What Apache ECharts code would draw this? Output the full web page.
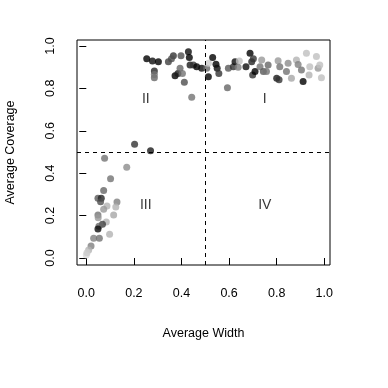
<!DOCTYPE html>
<html>
<head>
<meta charset="utf-8">
<script src="https://cdn.jsdelivr.net/npm/echarts@6/dist/echarts.min.js"></script>
<style>
  html, body { margin: 0; padding: 0; background: #fff; }
  #main { width: 388px; height: 388px; }
</style>
</head>
<body>
<div id="main"></div>
<script>
// values
var widthVals = [
  0.254, 0.278, 0.303, 0.286, 0.286, 0.286, 0.345, 0.366, 0.358, 0.398,
  0.429, 0.433, 0.373, 0.385, 0.394, 0.404, 0.412, 0.436, 0.450, 0.464,
  0.443, 0.485, 0.506, 0.513, 0.513, 0.531, 0.545, 0.550, 0.557, 0.593,
  0.597, 0.618, 0.625, 0.643, 0.638, 0.671, 0.688, 0.695, 0.702, 0.699,
  0.709, 0.737, 0.730, 0.744, 0.764, 0.757, 0.800, 0.810, 0.806, 0.813,
  0.841, 0.848, 0.862, 0.883, 0.890, 0.904, 0.911, 0.925, 0.939, 0.936,
  0.967, 0.974, 0.981, 0.988,
  0.203, 0.270, 0.077, 0.170, 0.102, 0.073, 0.049, 0.063, 0.060, 0.087,
  0.129, 0.073, 0.124, 0.115, 0.049, 0.050, 0.084, 0.068, 0.053, 0.049,
  0.098, 0.031, 0.055, 0.020, 0.010, 0.000, 0.003
];
var coverageVals = [
  0.939, 0.929, 0.926, 0.882, 0.850, 0.865, 0.926, 0.954, 0.940, 0.954,
  0.973, 0.945, 0.860, 0.870, 0.895, 0.870, 0.829, 0.910, 0.910, 0.902,
  0.758, 0.895, 0.895, 0.918, 0.855, 0.945, 0.914, 0.895, 0.870, 0.803,
  0.895, 0.902, 0.926, 0.929, 0.900, 0.902, 0.965, 0.926, 0.940, 0.863,
  0.880, 0.934, 0.902, 0.880, 0.910, 0.880, 0.848, 0.840, 0.930, 0.902,
  0.880, 0.918, 0.848, 0.934, 0.912, 0.887, 0.832, 0.965, 0.902, 0.863,
  0.950, 0.895, 0.910, 0.850,
  0.536, 0.506, 0.470, 0.428, 0.374, 0.318, 0.282, 0.282, 0.265, 0.245,
  0.264, 0.230, 0.240, 0.203, 0.203, 0.190, 0.170, 0.159, 0.150, 0.137,
  0.112, 0.093, 0.093, 0.057, 0.038, 0.014, 0.025
];
// grey level of each point (0 = black, 1 = white)
var shadeVals = [
  0.00, 0.05, 0.00, 0.15, 0.40, 0.45, 0.25, 0.20, 0.30, 0.30,
  0.05, 0.00, 0.00, 0.10, 0.40, 0.45, 0.30, 0.10, 0.20, 0.00,
  0.45, 0.05, 0.40, 0.80, 0.00, 0.00, 0.00, 0.05, 0.20, 0.40,
  0.35, 0.20, 0.05, 0.75, 0.50, 0.05, 0.00, 0.15, 0.20, 0.20,
  0.00, 0.60, 0.45, 0.35, 0.40, 0.45, 0.10, 0.20, 0.60, 0.45,
  0.45, 0.55, 0.65, 0.70, 0.50, 0.45, 0.00, 0.75, 0.75, 0.70,
  0.75, 0.60, 0.75, 0.75,
  0.20, 0.10, 0.45, 0.55, 0.45, 0.40, 0.35, 0.15, 0.30, 0.70,
  0.50, 0.60, 0.70, 0.65, 0.45, 0.60, 0.70, 0.25, 0.40, 0.05,
  0.70, 0.50, 0.45, 0.50, 0.70, 0.85, 0.80
];
var tickVals = [0, 0.2, 0.4, 0.6, 0.8, 1.0];
var cutWidth = 0.5;
var cutCoverage = 0.5;
var quadrantNames = ['II', 'I', 'III', 'IV'];
var quadrantX = [0.25, 0.75, 0.25, 0.75];
var quadrantY = [0.75, 0.75, 0.25, 0.25];

function gray(level) {
  var v = Math.round(level * 255);
  return 'rgb(' + v + ',' + v + ',' + v + ')';
}

var points = [];
for (var i = 0; i < widthVals.length; i++) {
  points.push({
    value: [widthVals[i], coverageVals[i]],
    itemStyle: { color: gray(shadeVals[i]) }
  });
}
var quadrants = [];
for (var j = 0; j < quadrantNames.length; j++) {
  quadrants.push({ value: [quadrantX[j], quadrantY[j]], name: quadrantNames[j] });
}

var font = 'Liberation Sans, Arial, sans-serif';
var myChart = echarts.init(document.getElementById('main'), null, { renderer: 'canvas' });
myChart.setOption({
  animation: false,
  backgroundColor: '#fff',
  grid: {
    left: 77, right: 58, top: 40, bottom: 123,
    containLabel: false, outerBoundsMode: 'none',
    show: true, borderColor: '#000', borderWidth: 1, backgroundColor: 'transparent'
  },
  xAxis: {
    type: 'value',
    min: -0.039, max: 1.024,
    splitLine: { show: false },
    axisLine: { show: false },
    axisTick: { show: true, length: 7, customValues: tickVals, lineStyle: { color: '#000' } },
    axisLabel: {
      customValues: tickVals, margin: 22, color: '#000', fontSize: 12.5, fontFamily: font,
      formatter: function (v) { return v.toFixed(1); }
    },
    name: 'Average Width', nameLocation: 'middle', nameGap: 62,
    nameTextStyle: { color: '#000', fontSize: 12.5, fontFamily: font }
  },
  yAxis: {
    type: 'value',
    min: -0.033, max: 1.028,
    splitLine: { show: false },
    axisLine: { show: false },
    axisTick: { show: true, length: 7, customValues: tickVals, lineStyle: { color: '#000' } },
    axisLabel: {
      customValues: tickVals, rotate: 90, margin: 20, color: '#000', fontSize: 12.5, fontFamily: font,
      formatter: function (v) { return v.toFixed(1); }
    },
    name: 'Average Coverage', nameLocation: 'middle', nameGap: 60,
    nameTextStyle: { color: '#000', fontSize: 12.5, fontFamily: font }
  },
  series: [
    {
      type: 'scatter',
      symbol: 'circle',
      symbolSize: 7,
      data: points,
      markLine: {
        silent: true,
        symbol: 'none',
        label: { show: false },
        lineStyle: { color: '#000', type: [4, 4], width: 1 },
        data: [{ xAxis: cutWidth }, { yAxis: cutCoverage }]
      }
    },
    {
      type: 'scatter',
      symbolSize: 0,
      data: quadrants,
      label: {
        show: true, position: 'inside', formatter: '{b}',
        color: '#000', fontSize: 14, fontFamily: font
      }
    }
  ]
});
</script>
</body>
</html>
